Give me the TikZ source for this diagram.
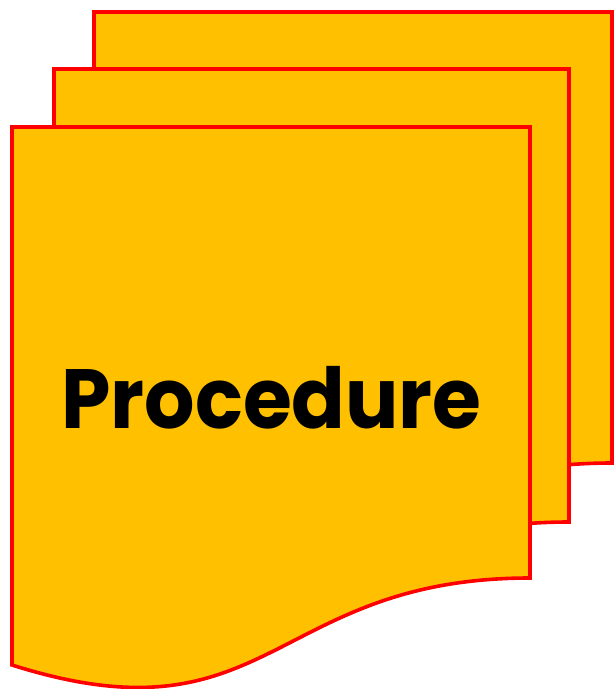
\documentclass[tikz,border=0pt]{standalone}
\usepackage{fontspec}
\setmainfont{Poppins}
\tikzset{
  docsheet/.style={draw=docred, fill=docgold, line width=3.6pt, line join=miter},
  doclabel/.style={font=\fontsize{84}{90}\selectfont\bfseries, text=black, inner sep=0pt, anchor=base}
}
\definecolor{docgold}{HTML}{FFC000}
\definecolor{docred}{HTML}{FF0000}
\newcommand\docpath[4]{(#1,#2) -- (#3,#2) -- (#3,#4) .. controls ({(#1+#3)/2},#4) and ({(#1+#3)/2},{#4+169}) .. (#1,{#4+87}) -- cycle}
\begin{document}
\begin{tikzpicture}[x=1pt,y=-1pt]
\useasboundingbox (0,0) rectangle (615,689);
\path[docsheet] \docpath{94}{12}{612}{463};
\path[docsheet] \docpath{54}{69}{569}{522};
\path[docsheet] \docpath{12}{127}{530}{578};
\node[doclabel] (label) at (271.5,428) {\scalebox{0.943}[1]{Procedure}};
\end{tikzpicture}
\end{document}
